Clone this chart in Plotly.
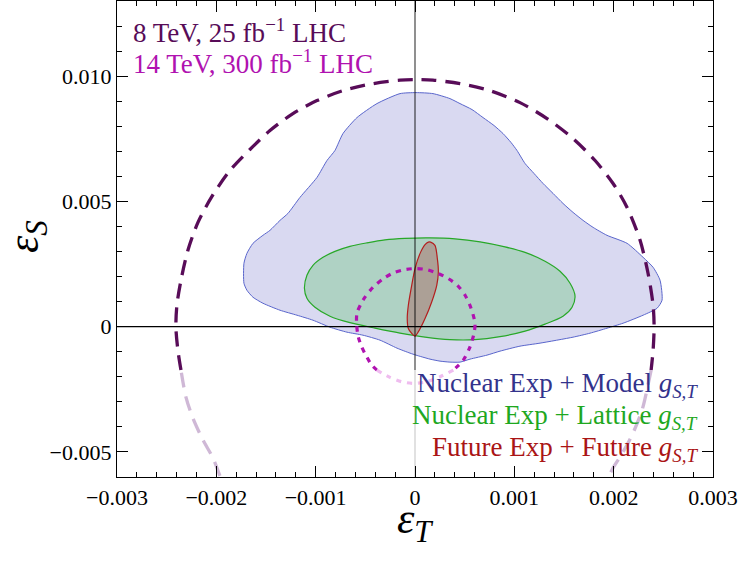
import plotly.graph_objects as go

S = 1e-3  # all outline values below are read in units of 1e-3

# ---- axes ----
x_range = [-3.0, 3.0]
y_range = [-6.0, 13.0]
x_tickvals = [-3, -2, -1, 0, 1, 2, 3]
x_ticktext = ["\u22120.003", "\u22120.002", "\u22120.001", "0", "0.001", "0.002", "0.003"]
y_tickvals = [-5, 0, 5, 10]
y_ticktext = ["\u22120.005", "0", "0.005", "0.010"]
fade_level = -1.733   # below this level the bounds are drawn faded

# ---- Nuclear Exp + Model g_S,T (blue region) ----
blue_x = [0.010, 0.181, 0.352, 0.453, 0.574, 0.685, 0.796, 0.886, 0.967, 1.027, 1.108, 1.198, 1.289,
          1.390, 1.490, 1.591, 1.692, 1.793, 1.933, 2.135, 2.296, 2.397, 2.467, 2.487, 2.437, 2.296,
          2.095, 1.933, 1.762, 1.591, 1.259, 1.057, 0.856, 0.725, 0.554, 0.453, 0.352, 0.252, 0.151,
          0.010, -0.050, -0.181, -0.352, -0.524, -0.685, -0.856, -1.027, -1.188, -1.359, -1.531,
          -1.631, -1.692, -1.722, -1.722, -1.692, -1.631, -1.531, -1.460, -1.359, -1.279, -1.158,
          -0.987, -0.886, -0.806, -0.725, -0.584, -0.383, -0.151]
blue_y = [9.343, 9.303, 9.104, 8.905, 8.666, 8.347, 8.028, 7.710, 7.351, 7.032, 6.514, 6.116, 5.717,
          5.319, 4.920, 4.562, 4.243, 3.964, 3.646, 3.327, 2.769, 2.370, 1.853, 1.056, 0.737, 0.458,
          0.139, -0.060, -0.259, -0.418, -0.657, -0.777, -0.976, -1.135, -1.295, -1.414, -1.414,
          -1.375, -1.295, -1.135, -1.056, -0.857, -0.538, -0.339, -0.219, -0.020, 0.259, 0.458,
          0.657, 0.936, 1.175, 1.454, 1.733, 2.530, 2.928, 3.327, 3.646, 3.845, 4.243, 4.522,
          5.160, 5.956, 6.634, 7.032, 7.709, 8.347, 8.905, 9.303]

# ---- Nuclear Exp + Lattice g_S,T (green region) ----
green_x = [-1.113, -1.088, -1.027, -0.926, -0.806, -0.655, -0.483, -0.302, -0.101, 0.151, 0.403,
           0.655, 0.906, 1.108, 1.309, 1.460, 1.561, 1.611, 1.581, 1.490, 1.309, 1.108, 0.856,
           0.604, 0.352, 0.101, -0.151, -0.403, -0.655, -0.856, -1.007, -1.088]
green_y = [1.534, 2.052, 2.450, 2.769, 3.008, 3.207, 3.347, 3.466, 3.526, 3.546, 3.506, 3.386,
           3.187, 2.968, 2.610, 2.211, 1.733, 1.215, 0.777, 0.418, 0.100, -0.179, -0.398, -0.518,
           -0.518, -0.418, -0.259, -0.060, 0.159, 0.418, 0.777, 1.135]

# ---- Future Exp + Future g_S,T (red region) ----
red_x = [0.158, 0.201, 0.225, 0.235, 0.219, 0.168, 0.101, 0.033, 0.000, -0.033, -0.067, -0.078,
         -0.067, -0.033, 0.000, 0.050, 0.101, 0.134]
red_y = [3.378, 3.247, 2.717, 2.183, 1.653, 0.988, 0.327, -0.207, -0.378, -0.271, -0.072, 0.327,
         0.857, 1.653, 2.319, 2.916, 3.275, 3.378]

# ---- 8 TeV, 25 fb^-1 LHC bound (big dashed contour) ----
lhc8_x = [-1.964, -2.034, -2.135, -2.236, -2.306, -2.356, -2.387, -2.407, -2.397, -2.356, -2.286,
          -2.185, -2.044, -1.863, -1.662, -1.460, -1.229, -0.987, -0.725, -0.423, -0.151, 0.010,
          0.181, 0.453, 0.755, 1.057, 1.329, 1.591, 1.813, 1.994, 2.135, 2.266, 2.346, 2.397,
          2.407, 2.397, 2.377, 2.356, 2.286, 2.195, 2.095, 1.994, 1.954]
lhc8_y = [-5.956, -5.239, -4.522, -3.645, -2.809, -1.733, -0.936, -0.020, 0.857, 1.853, 3.048,
          4.163, 5.199, 6.235, 7.072, 7.829, 8.506, 9.024, 9.422, 9.701, 9.840, 9.860, 9.840,
          9.701, 9.422, 8.944, 8.307, 7.510, 6.634, 5.717, 4.761, 3.446, 2.131, 0.857, -0.020,
          -0.936, -1.733, -2.131, -3.327, -4.243, -5.000, -5.637, -5.956]

# ---- 14 TeV, 300 fb^-1 LHC bound (small dotted contour) ----
lhc14_x = [-0.383, -0.436, -0.486, -0.537, -0.571, -0.587, -0.584, -0.524, -0.423, -0.312, -0.219,
           -0.101, 0.007, 0.118, 0.235, 0.335, 0.426, 0.504, 0.564, 0.604, 0.594, 0.554, 0.486,
           0.386, 0.252, 0.118, -0.017, -0.134, -0.252, -0.383]
lhc14_y = [-1.733, -1.534, -1.203, -0.805, -0.406, 0.060, 0.538, 1.056, 1.574, 1.932, 2.143,
           2.279, 2.319, 2.279, 2.119, 1.920, 1.653, 1.255, 0.737, 0.139, -0.271, -0.805, -1.335,
           -1.733, -2.000, -2.199, -2.263, -2.199, -2.024, -1.733]

FONT = "Liberation Serif"
C_LHC8 = "#580c58"
C_LHC8_FADE = "#cfb8d6"
C_LHC14 = "#b012b0"
C_LHC14_FADE = "#efbcef"


def sc(v):
    return [a * S for a in v]


def closed(v):
    return v + v[:1]


def split_runs(xs, ys, level, tol=1e-6):
    """Group consecutive segments into runs lying above (True) or below (False) the level."""
    runs = []
    for i in range(len(xs) - 1):
        up = min(ys[i], ys[i + 1]) >= level - tol
        if runs and runs[-1][0] == up:
            runs[-1][1].append(xs[i + 1]); runs[-1][2].append(ys[i + 1])
        else:
            runs.append((up, [xs[i], xs[i + 1]], [ys[i], ys[i + 1]]))
    return runs


fig = go.Figure()

# filled regions
fig.add_trace(go.Scatter(x=sc(closed(blue_x)), y=sc(closed(blue_y)), mode="lines", fill="toself",
                         fillcolor="#d9d9f1", line=dict(color="#5a66cc", width=1, shape="spline", smoothing=0.6),
                         hoverinfo="skip", showlegend=False))
fig.add_trace(go.Scatter(x=sc(closed(green_x)), y=sc(closed(green_y)), mode="lines", fill="toself",
                         fillcolor="#afd2c4", line=dict(color="#28a828", width=1.2, shape="spline", smoothing=0.8),
                         hoverinfo="skip", showlegend=False))
fig.add_trace(go.Scatter(x=sc(closed(red_x)), y=sc(closed(red_y)), mode="lines", fill="toself",
                         fillcolor="#aca096", line=dict(color="#b41e1e", width=1.2, shape="spline", smoothing=0.8),
                         hoverinfo="skip", showlegend=False))

# axes through the origin
fig.add_trace(go.Scatter(x=[x_range[0] * S, x_range[1] * S], y=[0, 0], mode="lines",
                         line=dict(color="black", width=1.2), hoverinfo="skip", showlegend=False))
fig.add_trace(go.Scatter(x=[0, 0], y=[fade_level * S, y_range[1] * S], mode="lines",
                         line=dict(color="rgba(0,0,0,0.55)", width=1.6), hoverinfo="skip", showlegend=False))
fig.add_trace(go.Scatter(x=[0, 0], y=[y_range[0] * S, fade_level * S], mode="lines",
                         line=dict(color="rgba(0,0,0,0.15)", width=1.6), hoverinfo="skip", showlegend=False))

# LHC bounds
for up, xs, ys in split_runs(lhc8_x, lhc8_y, fade_level):
    fig.add_trace(go.Scatter(x=sc(xs), y=sc(ys), mode="lines",
                             line=dict(color=C_LHC8 if up else C_LHC8_FADE, width=3.3, dash="15px,9px",
                                       shape="spline", smoothing=0.8),
                             hoverinfo="skip", showlegend=False))
for up, xs, ys in split_runs(lhc14_x, lhc14_y, fade_level):
    fig.add_trace(go.Scatter(x=sc(xs), y=sc(ys), mode="lines",
                             line=dict(color=C_LHC14 if up else C_LHC14_FADE, width=3.2, dash="5px,6px",
                                       shape="spline", smoothing=0.8),
                             hoverinfo="skip", showlegend=False))

axis_common = dict(showline=True, linecolor="black", linewidth=1.3, mirror="allticks",
                   ticks="inside", ticklen=11, tickwidth=1.1, tickcolor="black",
                   showgrid=False, zeroline=False,
                   tickfont=dict(family=FONT, size=22, color="black"))

fig.update_xaxes(range=[x_range[0] * S, x_range[1] * S], tickvals=[v * S for v in x_tickvals],
                 ticktext=x_ticktext,
                 minor=dict(ticks="inside", ticklen=5, dtick=0.2 * S, tick0=0, tickcolor="black",
                            tickwidth=1),
                 **axis_common)
fig.update_yaxes(range=[y_range[0] * S, y_range[1] * S], tickvals=[v * S for v in y_tickvals],
                 ticktext=y_ticktext,
                 minor=dict(ticks="inside", ticklen=5, dtick=1 * S, tick0=0, tickcolor="black",
                            tickwidth=1),
                 **axis_common)

ann = []
# axis titles
ann.append(dict(text="<i>\u03b5</i><sub><i>T</i></sub>", xref="paper", yref="paper", x=0.5, y=-0.094,
                xanchor="center", yanchor="middle", showarrow=False,
                font=dict(family=FONT, size=44, color="black")))
ann.append(dict(text="<i>\u03b5</i><sub><i>S</i></sub>", xref="paper", yref="paper", x=-0.152, y=0.505,
                xanchor="center", yanchor="middle", showarrow=False, textangle=-90,
                font=dict(family=FONT, size=44, color="black")))
# top-left labels
ann.append(dict(text="8 TeV, 25 fb<sup>\u22121</sup> LHC", xref="paper", yref="paper", x=0.023, y=0.936,
                xanchor="left", yanchor="middle", showarrow=False,
                font=dict(family=FONT, size=27, color=C_LHC8)))
ann.append(dict(text="14 TeV, 300 fb<sup>\u22121</sup> LHC", xref="paper", yref="paper", x=0.023, y=0.872,
                xanchor="left", yanchor="middle", showarrow=False,
                font=dict(family=FONT, size=27, color=C_LHC14)))
# legend labels
legend_items = [("Nuclear Exp + Model", "#33338c", 0.193),
                ("Nuclear Exp + Lattice", "#1fa81f", 0.127),
                ("Future Exp + Future", "#aa1515", 0.058)]
for label, col, yy in legend_items:
    ann.append(dict(text=label + " <i>g</i><sub><i>S,T</i></sub>", xref="paper", yref="paper",
                    x=0.978, y=yy, xanchor="right", yanchor="middle", showarrow=False,
                    font=dict(family=FONT, size=27, color=col)))

fig.update_layout(width=740, height=563, margin=dict(l=117, r=27, t=1, b=86),
                  plot_bgcolor="white", paper_bgcolor="white", annotations=ann,
                  showlegend=False)

fig.write_html("out.html")
